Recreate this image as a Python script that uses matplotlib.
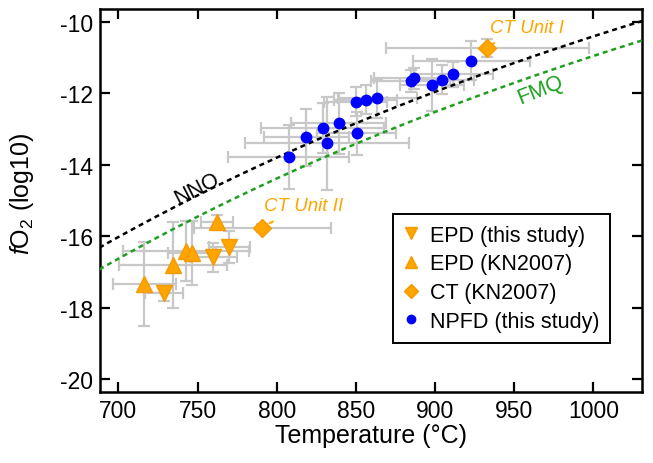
import numpy as np
import matplotlib
matplotlib.use('Agg')
import matplotlib.pyplot as plt

plt.rcParams['font.family'] = 'Liberation Sans'
plt.rcParams['mathtext.fontset'] = 'custom'
plt.rcParams['mathtext.rm'] = 'Liberation Sans'
plt.rcParams['mathtext.it'] = 'Liberation Sans:italic'
plt.rcParams['axes.unicode_minus'] = False

# NPFD (this study)
npfd_T = [807.5, 818.7, 829.0, 831.8, 839.2, 850.5, 849.9, 856.2, 863.4, 884.5, 886.5, 898.0, 904.7, 911.6, 922.8]
npfd_fo2 = [-13.78, -13.23, -12.98, -13.40, -12.84, -13.12, -12.23, -12.18, -12.14, -11.65, -11.58, -11.77, -11.62, -11.46, -11.09]
npfd_Terr = [38, 27, 39, 52, 30, 25, 20, 20, 25, 25, 25, 20, 20, 25, 37]
npfd_fo2err = [0.9, 0.8, 0.7, 1.3, 0.86, 0.6, 0.4, 0.4, 0.55, 0.3, 0.3, 0.72, 0.4, 0.35, 0.55]

# EPD (this study)
epd_T = [729.1, 760.0, 770.0]
epd_fo2 = [-17.60, -16.59, -16.30]
epd_Terr = [12, 15, 13]
epd_fo2err = [0.2, 0.4, 0.45]

# EPD (KN2007)
kn_T = [762.2, 742.8, 746.4, 734.4, 716.4]
kn_fo2 = [-15.61, -16.41, -16.47, -16.80, -17.34]
kn_Terr = [10, 40, 15, 34, 20]
kn_fo2err = [0.2, 0.85, 0.9, 1.2, 1.17]

# CT (KN2007)
ct_T = [791.0, 933.1]
ct_fo2 = [-15.77, -10.72]
ct_Terr = [43, 64]
ct_fo2err = [0.1, 0.25]
ct_labels = ['CT Unit II', 'CT Unit I']

# buffers: log fO2 = a - b / T(K)
nno_a, nno_b = 7.817, 23199
fmq_a, fmq_b = 7.456, 23438

orange = '#ffa500'
grey = '#c8c8c8'

fig = plt.figure(figsize=(6.53, 4.64), dpi=100)
ax = fig.add_axes([0.1531, 0.1530, 0.8296, 0.8254])

# buffer lines
T = np.linspace(688, 1031, 200)
ax.plot(T, nno_a - nno_b / (T + 273.15), color='black', lw=1.8, ls=(0, (2, 1.6)), zorder=3)
ax.plot(T, fmq_a - fmq_b / (T + 273.15), color='#1ea01e', lw=1.8, ls=(0, (2, 1.6)), zorder=3)
ax.text(749.6, -14.65, 'NNO', rotation=27, fontsize=15.5, ha='center', va='center')
ax.text(966.6, -11.88, 'FMQ', rotation=22, fontsize=15.5, color='#1ea01e', ha='center', va='center')

# error bars
ebkw = dict(fmt='none', ecolor=grey, elinewidth=1.6, capsize=4.5, capthick=1.6, zorder=2)
ax.errorbar(npfd_T, npfd_fo2, xerr=npfd_Terr, yerr=npfd_fo2err, **ebkw)
ax.errorbar(epd_T, epd_fo2, xerr=epd_Terr, yerr=epd_fo2err, **ebkw)
ax.errorbar(kn_T, kn_fo2, xerr=kn_Terr, yerr=kn_fo2err, **ebkw)
ax.errorbar(ct_T, ct_fo2, xerr=ct_Terr, yerr=ct_fo2err, **ebkw)

# markers
ax.plot(epd_T, epd_fo2, 'v', color=orange, mec='#f59a00', ms=11, ls='none', zorder=5, label='EPD (this study)')
ax.plot(kn_T, kn_fo2, '^', color=orange, mec='#f59a00', ms=11, ls='none', zorder=5, label='EPD (KN2007)')
ax.plot(ct_T, ct_fo2, 'D', color=orange, mec='#f59a00', ms=9, ls='none', zorder=5, label='CT (KN2007)')
ax.plot(npfd_T, npfd_fo2, 'o', color='blue', ms=7.5, ls='none', zorder=6, label='NPFD (this study)')

# CT labels
ax.annotate(ct_labels[0], xy=(ct_T[0] + 3, ct_fo2[0] + 0.1), xytext=(817, -15.15), fontsize=13.5,
            style='italic', color=orange, ha='center', va='center',
            arrowprops=dict(arrowstyle='-', color=orange, lw=1.5, shrinkA=7, shrinkB=2))
ax.annotate(ct_labels[1], xy=(ct_T[1] + 3, ct_fo2[1] + 0.1), xytext=(958, -10.16), fontsize=13.5,
            style='italic', color=orange, ha='center', va='center',
            arrowprops=dict(arrowstyle='-', color=orange, lw=1.5, shrinkA=7, shrinkB=2))

ax.set_xlim(688.4, 1030.5)
ax.set_ylim(-20.36, -9.64)
ax.set_xticks(np.arange(700, 1001, 50))
ax.set_yticks(np.arange(-20, -9, 2))
ax.tick_params(direction='in', length=7, width=1.6, labelsize=16.5, top=True, right=True, pad=5)
for s in ax.spines.values():
    s.set_linewidth(1.8)

ax.set_xlabel('Temperature (°C)', fontsize=18, labelpad=1)
ax.set_ylabel(r'$\mathit{f}$O$_2$ (log10)', fontsize=18, labelpad=4)
ax.yaxis.set_label_coords(-0.118, 0.52)

leg = ax.legend(loc='upper left', bbox_to_anchor=(0.541, 0.465), fontsize=15.5, fancybox=False,
                edgecolor='black', framealpha=1, handlelength=0.7, handletextpad=0.5,
                borderpad=0.5, labelspacing=0.36, markerscale=0.8, borderaxespad=0)
leg.get_frame().set_linewidth(1.4)
leg.legend_handles[3].set_markersize(6)

fig.savefig('out.png', dpi=100)
